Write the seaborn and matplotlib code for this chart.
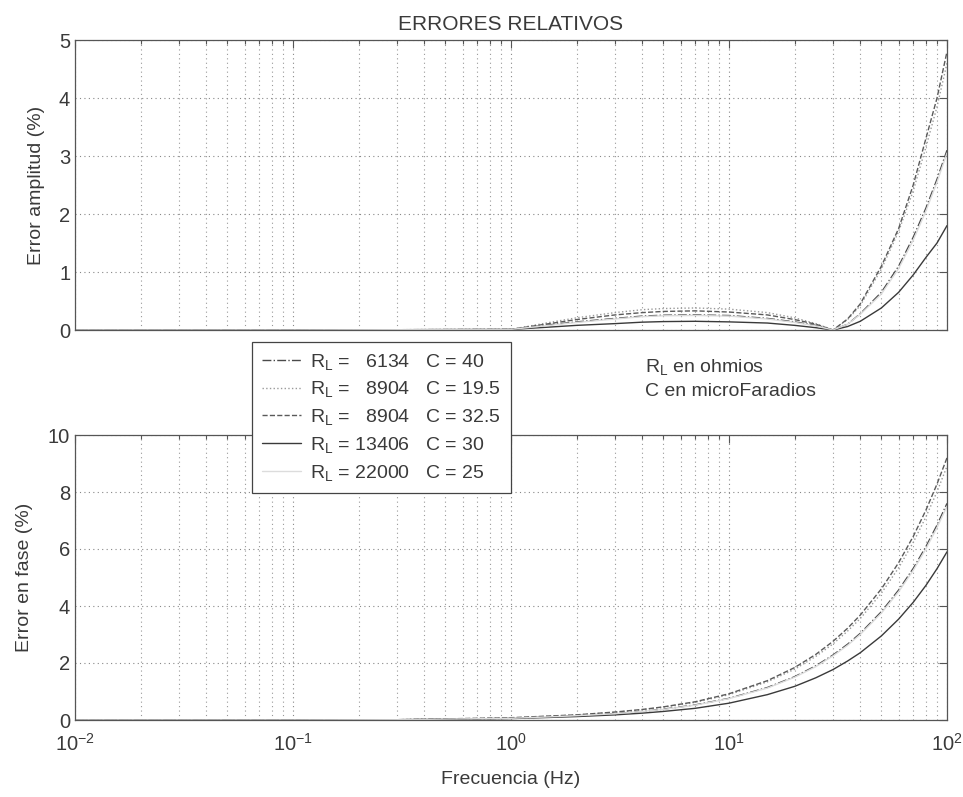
import matplotlib
matplotlib.use("Agg")
import matplotlib.pyplot as plt
import seaborn as sns
import pandas as pd
from matplotlib.ticker import LogLocator, NullFormatter, FixedLocator
from matplotlib.lines import Line2D

# ---------------- data ----------------
freq = [0.01, 0.03, 0.1, 0.3, 1, 1.5, 2, 3, 4, 5, 7, 10, 15, 20, 25, 30,
        35, 40, 50, 60, 70, 80, 90, 100]

rl_values = ["6134", "8904", "8904", "13406", "22000"]
c_values = ["40", "19.5", "32.5", "30", "25"]

amp_1 = [0, 0, 0, 0.005, 0.01, 0.09, 0.14, 0.2, 0.24, 0.255, 0.26, 0.25, 0.2, 0.14, 0.08, 0,
         0.1, 0.28, 0.65, 1.1, 1.6, 2.1, 2.6, 3.1]
amp_2 = [0, 0, 0, 0.005, 0.01, 0.13, 0.21, 0.3, 0.35, 0.37, 0.38, 0.36, 0.3, 0.21, 0.11, 0,
         0.18, 0.42, 1.05, 1.7, 2.4, 3.15, 3.85, 4.6]
amp_3 = [0, 0, 0, 0.005, 0.01, 0.11, 0.18, 0.26, 0.3, 0.32, 0.33, 0.31, 0.26, 0.18, 0.1, 0,
         0.19, 0.45, 1.1, 1.75, 2.5, 3.3, 4.0, 4.8]
amp_4 = [0, 0, 0, 0.005, 0.01, 0.05, 0.08, 0.11, 0.135, 0.145, 0.15, 0.14, 0.12, 0.08, 0.04, 0,
         0.06, 0.15, 0.38, 0.65, 0.95, 1.25, 1.5, 1.8]
amp_5 = [0, 0, 0, 0.005, 0.01, 0.08, 0.13, 0.19, 0.23, 0.245, 0.25, 0.24, 0.19, 0.13, 0.07, 0,
         0.1, 0.27, 0.62, 1.06, 1.55, 2.05, 2.55, 3.05]

ph_1 = [0, 0, 0, 0.01, 0.06, 0.11, 0.15, 0.23, 0.3, 0.38, 0.53, 0.76, 1.14, 1.52, 1.9, 2.28,
        2.66, 3.04, 3.8, 4.56, 5.32, 6.08, 6.84, 7.6]
ph_2 = [0, 0, 0, 0.01, 0.07, 0.13, 0.18, 0.27, 0.36, 0.45, 0.62, 0.89, 1.34, 1.78, 2.23, 2.67,
        3.12, 3.56, 4.45, 5.34, 6.23, 7.12, 8.01, 8.9]
ph_3 = [0, 0, 0, 0.01, 0.08, 0.14, 0.18, 0.28, 0.37, 0.46, 0.64, 0.92, 1.38, 1.84, 2.3, 2.76,
        3.22, 3.68, 4.6, 5.52, 6.44, 7.36, 8.28, 9.2]
ph_4 = [0, 0, 0, 0.01, 0.05, 0.09, 0.12, 0.18, 0.24, 0.3, 0.41, 0.59, 0.89, 1.18, 1.48, 1.77,
        2.07, 2.36, 2.95, 3.54, 4.13, 4.72, 5.31, 5.9]
ph_5 = [0, 0, 0, 0.01, 0.06, 0.11, 0.15, 0.22, 0.3, 0.37, 0.52, 0.75, 1.12, 1.5, 1.87, 2.25,
        2.62, 3.0, 3.75, 4.5, 5.25, 6.0, 6.75, 7.5]

amp_series = [amp_1, amp_2, amp_3, amp_4, amp_5]
ph_series = [ph_1, ph_2, ph_3, ph_4, ph_5]

amp_yticks = [0, 1, 2, 3, 4, 5]
ph_yticks = [0, 2, 4, 6, 8, 10]

# ---------------- style ----------------
sns.set_style("white")
plt.rcParams["font.family"] = ["Liberation Sans", "DejaVu Sans"]
plt.rcParams["mathtext.fontset"] = "custom"
plt.rcParams["mathtext.rm"] = "Liberation Sans"
plt.rcParams["mathtext.it"] = "Liberation Sans"
TXT = "#3a3a3a"

line_styles = ["-.", ":", "--", "-", "-"]
line_colors = ["#4a4a4a", "#9a9a9a", "#5a5a5a", "#3a3a3a", "#dcdcdc"]

W, H = 963, 797
fig = plt.figure(figsize=(W / 100, H / 100), dpi=100)
ax1 = fig.add_axes([75 / W, 1 - 330 / H, 872 / W, 290 / H])
ax2 = fig.add_axes([75 / W, 1 - 720 / H, 872 / W, 285 / H])


def draw(ax, series, ylim, yticks):
    for i, ys in enumerate(series):
        df = pd.DataFrame({"f": freq, "v": ys})
        sns.lineplot(data=df, x="f", y="v", ax=ax, color=line_colors[i],
                     linestyle=line_styles[i], linewidth=1.0, estimator=None,
                     sort=False, legend=False)
    ax.set_xscale("log")
    ax.set_xlim(0.01, 100)
    ax.set_ylim(*ylim)
    ax.yaxis.set_major_locator(FixedLocator(yticks))
    ax.xaxis.set_major_locator(LogLocator(base=10, numticks=10))
    ax.xaxis.set_minor_locator(LogLocator(base=10, subs=range(2, 10), numticks=100))
    ax.xaxis.set_minor_formatter(NullFormatter())
    ax.grid(True, which="major", axis="both", linestyle=(0, (1, 3)), color="#888", linewidth=0.8)
    ax.grid(True, which="minor", axis="x", linestyle=(0, (1, 3)), color="#999", linewidth=0.8)
    ax.tick_params(which="both", direction="in", top=True, right=True, colors="#555",
                   labelcolor=TXT, labelsize=14.5)
    ax.tick_params(which="major", length=6, width=0.8)
    ax.tick_params(which="minor", length=3, width=0.8)
    for s in ax.spines.values():
        s.set_color("#555")
        s.set_linewidth(0.9)
    ax.set_xlabel("")
    ax.set_ylabel("")


draw(ax1, amp_series, (0, 5), amp_yticks)
draw(ax2, ph_series, (0, 10), ph_yticks)
ax1.tick_params(labelbottom=False)
ax2.tick_params(axis="x", pad=9)

ax1.set_ylabel("Error amplitud (%)", fontsize=14, color=TXT, labelpad=10)
ax2.set_ylabel("Error en fase (%)", fontsize=14, color=TXT, labelpad=11)
ax2.set_xlabel("Frecuencia (Hz)", fontsize=14, color=TXT, labelpad=12)
ax1.set_title("ERRORES RELATIVOS", fontsize=15, color=TXT, pad=7)

# legend
handles = [Line2D([], [], color=line_colors[i], linestyle=line_styles[i], linewidth=1.0)
           for i in range(5)]
labels = []
for rl, c in zip(rl_values, c_values):
    pad = "  " * (5 - len(rl))
    labels.append(r"$\mathregular{R_L}$ = " + pad + rl + "   C = " + c)
leg = fig.legend(handles, labels, loc="upper left",
                 bbox_to_anchor=(252 / W, 1 - 342 / H), bbox_transform=fig.transFigure,
                 fontsize=14, frameon=True, fancybox=False, edgecolor="#444",
                 handlelength=2.0, handletextpad=0.5, borderpad=0.5, labelspacing=0.4,
                 borderaxespad=0)
leg.get_frame().set_linewidth(0.9)
leg.get_frame().set_facecolor("white")
leg.get_frame().set_alpha(1)
for t in leg.get_texts():
    t.set_color(TXT)

fig.text(645 / W, 1 - 367 / H, r"$\mathregular{R_L}$ en ohmios", fontsize=14, color=TXT,
         va="center", ha="left")
fig.text(645 / W, 1 - 392 / H, "C en microFaradios", fontsize=14, color=TXT,
         va="center", ha="left")

fig.savefig("out.png", dpi=100, facecolor="white")
